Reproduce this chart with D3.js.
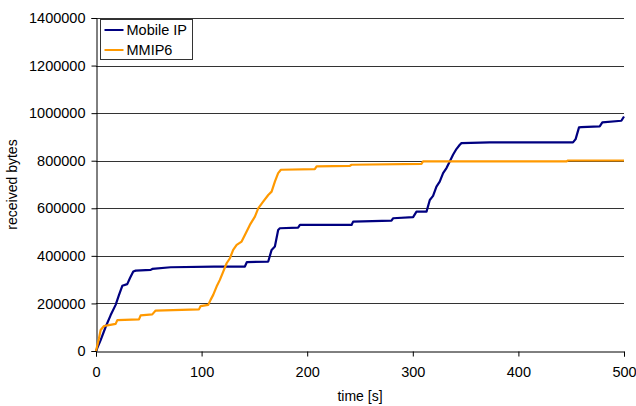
<!DOCTYPE html>
<html>
<head>
<meta charset="utf-8">
<script src="https://cdn.jsdelivr.net/npm/d3@7"></script>
<style>
  body { margin: 0; background: #fff; }
  svg { display: block; font-family: Arial, "Liberation Sans", sans-serif; }
</style>
</head>
<body>
<div id="chart"></div>
<script>
// series: time [s] and received bytes
var seriesNames = ['Mobile IP', 'MMIP6'];
var seriesColors = ['#000080', '#FF9900'];

var mobileTime = [0, 4.4, 9.2, 13.9, 18.6, 21.8, 24.9, 29.6, 32.2, 35.3, 37.6, 51.8, 53.3, 70.7, 111.7, 141,
  142.9, 163.1, 166.3, 169.4, 172.5, 174.1, 191.4, 193.1, 242, 243.5, 279.8, 281.3, 300.3, 303.5, 313,
  316.1, 319.2, 322.4, 325.5, 328.7, 331.9, 335, 338.1, 341.3, 344.5, 346.1, 372.9, 451.7, 454.2, 457.4,
  459.6, 477, 479.5, 497.5, 500];
var mobileBytes = [0, 46000, 102000, 151000, 194000, 236000, 274000, 281000, 307000, 334000, 338000, 341000,
  345000, 352000, 355000, 355000, 374000, 376000, 425000, 439000, 509000, 516000, 519000, 530000, 530000,
  544000, 548000, 558000, 563000, 586000, 586000, 635000, 652000, 691000, 712000, 748000, 769000, 797000,
  825000, 849000, 867000, 874000, 877000, 877000, 891000, 940000, 941000, 944000, 961000, 968000, 986000];

var mmipTime = [0, 2.8, 4.4, 7.6, 12.3, 18.6, 20.2, 40.7, 42.3, 53.3, 56.5, 97.5, 99.1, 106.3, 108.5, 111,
  114.2, 117.3, 120.5, 123.7, 126.8, 129.9, 133.2, 137.9, 141, 145.7, 150.5, 153.6, 158.3, 163.1, 166.3,
  169.4, 172.5, 175.1, 207.2, 208.9, 240.4, 242, 308.2, 309.7, 445.4, 447, 500];
var mmipBytes = [0, 53000, 88000, 105000, 109000, 114000, 130000, 133000, 150000, 154000, 170000, 175000,
  189000, 194000, 215000, 236000, 271000, 299000, 334000, 369000, 390000, 425000, 446000, 460000, 488000,
  530000, 565000, 600000, 628000, 656000, 670000, 712000, 748000, 762000, 765000, 776000, 778000, 783000,
  787000, 797000, 797000, 801000, 801000];

var xTicks = [0, 100, 200, 300, 400, 500];
var yTicks = [0, 200000, 400000, 600000, 800000, 1000000, 1200000, 1400000];

var width = 636, height = 406;
var plotLeft = 96, plotRight = 624, plotTop = 18, plotBottom = 351;

var svg = d3.select('#chart').append('svg')
  .attr('width', width)
  .attr('height', height);

var x = d3.scaleLinear().domain([0, 500]).range([plotLeft, plotRight]);
var y = d3.scaleLinear().domain([0, 1400000]).range([plotBottom, plotTop]);

// gridlines
svg.append('g').selectAll('line')
  .data(yTicks.slice(1))
  .enter().append('line')
  .attr('x1', plotLeft).attr('x2', plotRight)
  .attr('y1', function(d){ return Math.round(y(d)) + 0.5; })
  .attr('y2', function(d){ return Math.round(y(d)) + 0.5; })
  .attr('stroke', '#333')
  .attr('stroke-width', 1);

// axes
var yAxis = svg.append('g')
  .attr('transform', 'translate(' + (plotLeft + 0.5) + ',0)')
  .call(d3.axisLeft(y).tickValues(yTicks).tickFormat(d3.format('d')).tickSize(5).tickPadding(6));
var xAxis = svg.append('g')
  .attr('transform', 'translate(0,' + (plotBottom + 0.5) + ')')
  .call(d3.axisBottom(x).tickValues(xTicks).tickSize(5).tickPadding(10));

[yAxis, xAxis].forEach(function(ax){
  ax.select('.domain').attr('stroke', '#000');
  ax.selectAll('.tick line').attr('stroke', '#000');
  ax.selectAll('text').attr('font-size', '14.5px').attr('fill', '#000')
    .attr('font-family', 'Arial, "Liberation Sans", sans-serif');
});

// axis titles
svg.append('text')
  .attr('x', (plotLeft + plotRight) / 2)
  .attr('y', 401)
  .attr('text-anchor', 'middle')
  .attr('font-size', '14px')
  .text('time [s]');
svg.append('text')
  .attr('transform', 'translate(17,' + ((plotTop + plotBottom) / 2) + ') rotate(-90)')
  .attr('text-anchor', 'middle')
  .attr('font-size', '14px')
  .text('received bytes');

// lines
var line = d3.line()
  .x(function(d){ return x(d[0]); })
  .y(function(d){ return y(d[1]); });

var series = [
  d3.zip(mobileTime, mobileBytes),
  d3.zip(mmipTime, mmipBytes)
];

svg.append('g').selectAll('path')
  .data(series)
  .enter().append('path')
  .attr('d', line)
  .attr('fill', 'none')
  .attr('stroke', function(d, i){ return seriesColors[i]; })
  .attr('stroke-width', 2.2)
  .attr('stroke-linejoin', 'round');

// legend
var legend = svg.append('g').attr('transform', 'translate(100.5,19.5)');
legend.append('rect')
  .attr('width', 92).attr('height', 40)
  .attr('fill', '#fff')
  .attr('stroke', '#333');
seriesNames.forEach(function(name, i){
  legend.append('line')
    .attr('x1', 4).attr('x2', 23)
    .attr('y1', 10.5 + i * 20).attr('y2', 10.5 + i * 20)
    .attr('stroke', seriesColors[i])
    .attr('stroke-width', 2);
  legend.append('text')
    .attr('x', 26).attr('y', 15.5 + i * 20)
    .attr('font-size', '14.5px')
    .text(name);
});
</script>
</body>
</html>
